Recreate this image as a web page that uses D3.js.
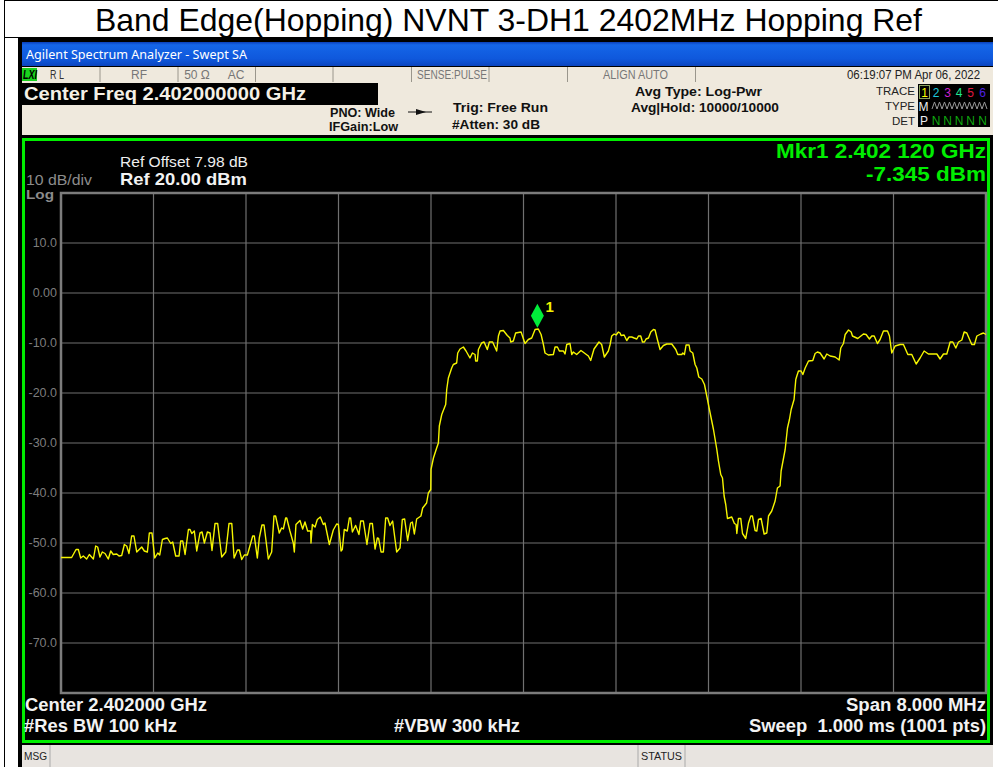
<!DOCTYPE html>
<html><head><meta charset="utf-8">
<style>html,body{margin:0;padding:0;background:#fff;overflow:hidden}svg{display:block}text{white-space:pre}</style>
<script src="https://cdnjs.cloudflare.com/ajax/libs/d3/7.8.5/d3.min.js"></script>
</head><body><svg id="c" width="998" height="767"></svg>
<script>
const chartTitle = "Band Edge(Hopping) NVNT 3-DH1 2402MHz Hopping Ref";
const levelTicks = [10, 0, -10, -20, -30, -40, -50, -60, -70];
const levelTickLabels = ["10.0","0.00","-10.0","-20.0","-30.0","-40.0","-50.0","-60.0","-70.0"];
const freqTicks = [0.8, 1.6, 2.4, 3.2, 4.0, 4.8, 5.6, 6.4, 7.2];
const markerMHz = 4.12;
const markerDbm = -7.345;
// Trace: MHz above the 2.398 GHz start of the span
const traceMHz = [0,.092,.130,.150,.170,.193,.222,.245,.280,.300,.317,.337,.357,.381,.409,.430,.452,.482,.502,.525,.548,.568,.588,.611,.631,.655,.698,.721,.747,.764,.787,.811,.837,.854,.877,.900,.920,.949,.966,.992,1.021,1.035,1.053,1.073,1.102,1.116,1.131,1.153,1.174,1.202,1.220,1.240,1.266,1.289,1.306,1.332,1.355,1.390,1.425,1.453,1.477,1.497,1.526,1.543,1.563,1.586,1.612,1.658,1.672,1.698,1.715,1.738,1.756,1.793,1.822,1.842,1.856,1.888,1.908,1.923,1.943,1.952,1.980,2.009,2.018,2.032,2.067,2.090,2.110,2.133,2.159,2.162,2.174,2.197,2.217,2.243,2.269,2.283,2.321,2.355,2.384,2.399,2.422,2.433,2.450,2.476,2.494,2.505,2.520,2.548,2.577,2.592,2.615,2.646,2.672,2.693,2.716,2.736,2.747,2.768,2.788,2.808,2.825,2.845,2.868,2.903,2.932,2.952,2.972,2.998,3.024,3.039,3.056,3.076,3.113,3.128,3.162,3.177,3.198,3.200,3.221,3.249,3.264,3.272,3.293,3.327,3.336,3.350,3.379,3.393,3.422,3.431,3.451,3.480,3.503,3.537,3.558,3.581,3.586,3.601,3.610,3.638,3.659,3.687,3.705,3.733,3.768,3.783,3.797,3.826,3.860,3.883,3.889,3.912,3.932,3.979,4.013,4.042,4.071,4.100,4.128,4.152,4.172,4.186,4.215,4.258,4.273,4.293,4.310,4.345,4.359,4.374,4.402,4.417,4.431,4.460,4.497,4.532,4.561,4.581,4.610,4.653,4.676,4.699,4.734,4.749,4.763,4.784,4.801,4.821,4.835,4.844,4.870,4.893,4.913,4.936,4.957,4.980,4.994,5.014,5.029,5.046,5.060,5.081,5.101,5.124,5.138,5.158,5.181,5.210,5.239,5.282,5.317,5.334,5.369,5.378,5.392,5.406,5.432,5.441,5.464,5.484,5.499,5.516,5.542,5.565,5.585,5.608,5.643,5.672,5.686,5.706,5.721,5.735,5.749,5.764,5.801,5.824,5.839,5.845,5.859,5.879,5.894,5.922,5.946,5.966,5.980,6.003,6.018,6.032,6.055,6.081,6.104,6.119,6.147,6.176,6.196,6.219,6.228,6.263,6.283,6.300,6.315,6.340,6.355,6.364,6.378,6.401,6.416,6.436,6.465,6.502,6.522,6.542,6.565,6.600,6.623,6.652,6.695,6.730,6.744,6.767,6.782,6.811,6.834,6.845,6.891,6.940,6.963,6.992,7.012,7.033,7.061,7.084,7.113,7.148,7.165,7.185,7.214,7.257,7.286,7.324,7.358,7.396,7.430,7.465,7.502,7.575,7.603,7.632,7.661,7.690,7.713,7.739,7.762,7.791,7.811,7.834,7.877,7.900,7.921,7.955,7.978,8.000];
const traceDbm = [-52.9,-52.9,-51.3,-51.3,-53,-52.6,-53.2,-52.3,-53.2,-50.6,-50.8,-52.8,-51.8,-52.1,-53.2,-51.6,-52.3,-52.2,-52.6,-52.5,-50.3,-50.6,-52.1,-48.6,-48.6,-51.8,-50.8,-51.6,-51.8,-48,-48,-53,-52,-52.4,-49.3,-49.1,-49,-50.1,-49.8,-52.6,-52.6,-49.6,-49.6,-52.3,-47.3,-47.3,-48.1,-47.6,-51.6,-48,-47.8,-50,-47.8,-48,-51.5,-46.1,-46.1,-52.8,-51.8,-46.1,-46.1,-53,-51.4,-51.4,-53.3,-52.4,-52.4,-48.6,-48.6,-53,-49,-46.4,-46.4,-53.2,-51.8,-44.6,-44.6,-48,-47,-47.2,-45,-45,-47.6,-50,-51.8,-46.3,-45.5,-47.2,-45.8,-47.6,-47.6,-50,-46.3,-46.8,-45.3,-44.8,-46.3,-46,-50.3,-47.4,-46.2,-46.3,-51.6,-51.3,-47.3,-47.6,-45,-45,-47.8,-46.5,-48.3,-45.6,-45.6,-50.3,-46.1,-46.1,-51.2,-49,-49.1,-51.8,-51.8,-45,-45,-46.5,-45.6,-51.8,-51,-45.3,-45.2,-49.5,-46,-45.8,-48.2,-45.2,-44.6,-43,-42,-40,-39.3,-35.3,-33,-31,-30,-26.6,-24.3,-22.3,-19.3,-17,-15,-14.3,-14,-12,-11.2,-10.8,-11.6,-13,-12,-12.3,-13.6,-13.6,-11.3,-10,-9.8,-11.3,-9.8,-9.8,-11.6,-8.6,-7.6,-7.5,-8.5,-9,-9.8,-9.6,-8,-7.8,-10.1,-9.3,-9,-7.3,-7.2,-8.3,-10.3,-12,-12.4,-12.3,-10.8,-10.8,-11.6,-11.6,-12.2,-10.3,-10.1,-12.3,-11.8,-12.3,-11.5,-12.1,-12.6,-13.5,-11.2,-9.8,-10.3,-12.8,-11.6,-10.3,-8.6,-8.2,-8.4,-7.8,-8,-8.5,-8.4,-9.5,-8.8,-8.8,-9,-9.2,-8.6,-8.6,-9.8,-9.8,-9.2,-9,-7.8,-7.3,-7.4,-9.3,-11.3,-10.5,-10.2,-10.2,-11.3,-12.3,-12.3,-12,-12.3,-10.4,-10.4,-11.6,-12,-14.3,-15,-16.8,-17.2,-18.3,-20.6,-23.3,-27.3,-31.3,-33.6,-36.3,-37,-40.6,-42.3,-45.1,-44.8,-46.1,-46.3,-48.1,-45.1,-45.1,-48.1,-49.1,-46,-44.6,-44.6,-47.5,-47.6,-45.3,-45.1,-48.2,-48,-44.6,-43.6,-41.6,-39,-38.6,-35.6,-31.3,-27,-25.3,-23.3,-21.3,-17.3,-16.6,-15.6,-15.6,-16.3,-15,-13.6,-13.5,-12.1,-11.8,-12,-13.2,-12.2,-12.6,-12.8,-13.4,-11,-10.1,-8.3,-7.4,-7.8,-8.6,-9.1,-8.2,-8.3,-9.2,-8.6,-8.6,-10.1,-9.3,-7.6,-7.6,-8.6,-12,-10.6,-10.3,-10.3,-12.3,-12.3,-14.2,-13,-11.6,-12.2,-12.2,-13.2,-12.2,-12.2,-9.8,-9.8,-11,-9.8,-9.4,-7.8,-8,-10.3,-10.3,-8.6,-8.2,-8,-8.3];
const trace = traceMHz.map((f, i) => ({f, v: traceDbm[i]}));

const svg = d3.select("#c");
const sans = "'Liberation Sans', Arial, sans-serif";
function rect(x, y, w, h, fill, extra) {
  const r = svg.append("rect").attr("x", x).attr("y", y).attr("width", w).attr("height", h).attr("fill", fill);
  if (extra) { r.attr("stroke", extra).attr("stroke-width", 1); }
  return r;
}
function label(t, x, y, size, fill, o = {}) {
  const n = svg.append("text").text(t).attr("x", x).attr("y", y)
    .attr("font-family", o.family || sans).attr("font-size", size).attr("fill", fill)
    .attr("font-weight", o.bold ? 700 : 400).attr("text-anchor", o.anchor || "start");
  if (o.italic) { n.attr("font-style", "italic"); }
  if (o.len) { n.attr("textLength", o.len).attr("lengthAdjust", "spacingAndGlyphs"); }
  return n;
}
function vline(x, y1, y2, c) { svg.append("line").attr("x1", x).attr("x2", x).attr("y1", y1).attr("y2", y2).attr("stroke", c).attr("stroke-width", 1); }

// page frame
rect(0, 0, 998, 767, "#fff");
rect(4, 0, 994, 1, "#000");
rect(4, 0, 1, 767, "#000");
rect(4, 37, 14, 1, "#000");
label(chartTitle, 95, 31, 32, "#000", {len: 827});

// instrument body
rect(18, 37, 975, 730, "#000");
const blue = svg.append("defs").append("linearGradient").attr("id", "bar").attr("x1", 0).attr("x2", 0).attr("y1", 0).attr("y2", 1);
[[0, "#0a3fb8"], [0.12, "#1566e8"], [0.7, "#0f58dc"], [1, "#0b45c0"]].forEach(s => blue.append("stop").attr("offset", s[0]).attr("stop-color", s[1]));
rect(22, 42, 971, 24, "url(#bar)");
label("Agilent Spectrum Analyzer - Swept SA", 26, 59, 12.5, "#fff", {len: 221, family: "'Noto Sans', sans-serif"});

// status strip
rect(22, 67, 971, 16, "#efe9dd");
[100, 178, 255.5, 333, 411.5, 489, 567.5, 695.5].forEach(x => vline(x, 67, 82, "#9a968c"));
rect(22, 68, 15, 13, "#19d11e");
label("LXI", 23, 79, 12, "#000", {bold: true, italic: true, len: 14});
label("R L", 50, 79, 12, "#333", {len: 14});
label("RF", 139, 79, 12, "#777", {anchor: "middle"});
label("50 Ω", 197, 79, 12, "#777", {anchor: "middle"});
label("AC", 236, 79, 12, "#777", {anchor: "middle"});
label("SENSE:PULSE", 417, 79, 12, "#777", {len: 70});
label("ALIGN AUTO", 603, 79, 12, "#777", {len: 65});
label("06:19:07 PM Apr 06, 2022", 847, 79, 12, "#222", {len: 133});

// settings panel
rect(22, 83, 971, 52, "#efe9dd");
rect(22, 83, 356, 22, "#000");
label("Center Freq 2.402000000 GHz", 24, 100, 18.5, "#f4f0e6", {bold: true, len: 282});
label("PNO: Wide", 330, 117, 13, "#111", {bold: true, len: 65});
label("IFGain:Low", 329, 131, 13, "#111", {bold: true, len: 69});
label("Trig: Free Run", 453, 112, 13.5, "#111", {bold: true, len: 95});
label("#Atten: 30 dB", 452, 129, 13.5, "#111", {bold: true, len: 88});
label("Avg Type: Log-Pwr", 635, 96, 13.5, "#111", {bold: true, len: 127});
label("Avg|Hold: 10000/10000", 631, 112, 13.5, "#111", {bold: true, len: 148});
svg.append("line").attr("x1", 408).attr("x2", 432).attr("y1", 112).attr("y2", 112).attr("stroke", "#111").attr("stroke-width", 1);
svg.append("path").attr("d", "M416,109L426,112L416,115Z").attr("fill", "#111");
label("TRACE", 915, 95, 11.5, "#222", {anchor: "end"});
label("TYPE", 915, 110, 11.5, "#222", {anchor: "end"});
label("DET", 915, 125, 11.5, "#222", {anchor: "end"});
rect(918, 84, 72, 43, "#000");
rect(919.5, 85.5, 10, 13, "none", "#8aa060");
const traceNames = ["1","2","3","4","5","6"];
const traceColors = ["#ffff00","#1ec8dc","#d020d0","#20e890","#e01840","#5020e0"];
const slotX = [924.5, 936, 947.7, 959, 970.7, 982.7];
traceNames.forEach((t, i) => label(t, slotX[i], 96.5, 12, traceColors[i], {anchor: "middle"}));
label("M", 923.5, 110.5, 12, "#eee", {anchor: "middle"});
svg.append("path").attr("d", d3.line()(d3.range(932, 988, 2.5).map((x, i) => [x, i % 2 ? 102 : 109]))).attr("fill", "none").attr("stroke", "#999").attr("stroke-width", 1);
label("P", 924, 124.5, 12, "#eee", {anchor: "middle"});
slotX.slice(1).forEach(x => label("N", x, 124.5, 12, "#0fa80f", {anchor: "middle"}));

// green screen frame
svg.append("rect").attr("x", 23.5).attr("y", 139.5).attr("width", 965).attr("height", 602).attr("fill", "#000").attr("stroke", "#00ee00").attr("stroke-width", 3);

label("Ref Offset 7.98 dB", 120, 167, 14.5, "#eee", {len: 128});
label("Ref 20.00 dBm", 120, 185, 17, "#f2f2f2", {bold: true, len: 127});
label("10 dB/div", 26, 185, 14.5, "#8c8c8c", {len: 66});
label("Log", 26, 199, 12.5, "#8c8c8c", {bold: true, len: 28});
label("Mkr1 2.402 120 GHz", 986, 158, 20, "#00ee00", {bold: true, anchor: "end", len: 210});
label("-7.345 dBm", 986, 181, 20, "#00ee00", {bold: true, anchor: "end", len: 120});
label("Center 2.402000 GHz", 25, 711, 17.5, "#f2f2f2", {bold: true, len: 182});
label("#Res BW 100 kHz", 24, 732, 17.5, "#f2f2f2", {bold: true, len: 153});
label("#VBW 300 kHz", 394, 732, 17.5, "#f2f2f2", {bold: true, len: 126});
label("Span 8.000 MHz", 986, 711, 17.5, "#f2f2f2", {bold: true, anchor: "end", len: 140});
label("Sweep  1.000 ms (1001 pts)", 986, 732, 17.5, "#f2f2f2", {bold: true, anchor: "end", len: 237});

// message bar
rect(22, 745, 971, 22, "#e8e4e0");
[50, 638, 685].forEach(x => vline(x, 745, 767, "#aaa"));
label("MSG", 24, 760, 11.5, "#222", {len: 23});
label("STATUS", 641, 760, 11.5, "#222", {len: 41});

// plot
const x = d3.scaleLinear().domain([0, 8]).range([61, 986]);
const y = d3.scaleLinear().domain([-80, 20]).range([693, 193]);
const axX = d3.axisBottom(x).tickValues(freqTicks).tickSize(-500).tickFormat("");
const gx = svg.append("g").attr("transform", `translate(-0.5,${y(-80)})`).call(axX);
gx.selectAll(".tick line").attr("stroke", "#707070").attr("stroke-width", 1.2);
gx.select(".domain").remove();
const axY = d3.axisLeft(y).tickValues(levelTicks).tickSize(-925)
  .tickFormat((d, i) => levelTickLabels[i]);
const gy = svg.append("g").attr("transform", `translate(${x(0)},-0.5)`).call(axY);
gy.selectAll(".tick line").attr("stroke", "#707070").attr("stroke-width", 1.2);
gy.selectAll(".tick text").attr("fill", "#7d7d7d").attr("font-family", sans).attr("font-size", 12.5).attr("x", -4);
gy.select(".domain").remove();
svg.append("rect").attr("x", x(0)).attr("y", y(20)).attr("width", x(8) - x(0)).attr("height", y(-80) - y(20))
  .attr("fill", "none").attr("stroke", "#7c7c7c").attr("stroke-width", 2.5);

svg.append("path").datum(trace).attr("fill", "none").attr("stroke", "#f6f600").attr("stroke-width", 1.4)
  .attr("stroke-linejoin", "round")
  .attr("d", d3.line().x(d => x(d.f)).y(d => y(d.v)));

const mx = x(markerMHz), my = y(markerDbm);
svg.append("path").attr("d", `M${mx},${my - 2}L${mx + 6.5},${my - 14}L${mx},${my - 26}L${mx - 6.5},${my - 14}Z`).attr("fill", "#00ee3a");
label("1", mx + 8, 312, 15, "#f2f200", {bold: true});
</script></body></html>
